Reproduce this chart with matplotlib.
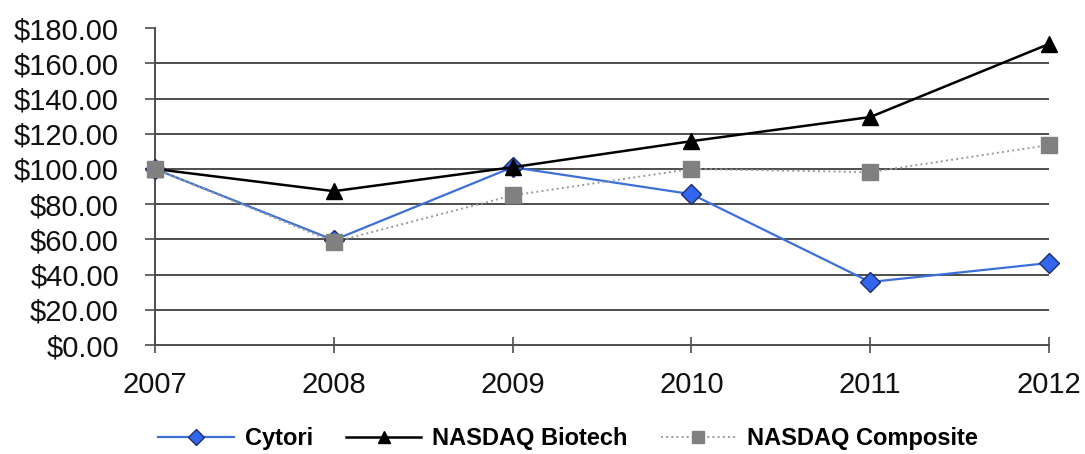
import matplotlib
matplotlib.use("Agg")
import matplotlib.pyplot as plt
from matplotlib.ticker import FuncFormatter

years = [2007, 2008, 2009, 2010, 2011, 2012]
cytori = [100, 59.6, 101, 85.7, 35.8, 46.6]
biotech = [100, 87.4, 101, 115.8, 129.5, 171]
composite = [100, 58.5, 85, 100, 98.2, 113.6]

plt.rcParams["font.family"] = ["Liberation Sans", "DejaVu Sans"]

fig = plt.figure(figsize=(10.85, 4.54), dpi=100)
ax = fig.add_axes([0.1429, 0.240, 0.8239, 0.698])

grid_col = "#4d4d4d"
for v in range(20, 180, 20):
    ax.axhline(v, color=grid_col, lw=1.4, zorder=1)

ax.plot(years, cytori, "-", color="#3d6fd9", lw=1.6, marker="D", ms=10,
        mfc="#3366ee", mec="#1f2f66", mew=1.0, label="Cytori", zorder=3,
        clip_on=False)
ax.plot(years, biotech, "-", color="black", lw=1.8, marker="^", ms=11,
        mfc="black", mec="black", label="NASDAQ Biotech", zorder=4,
        clip_on=False)
ax.plot(years, composite, ":", color="#9a9a9a", lw=1.4, marker="s", ms=11,
        mfc="#808080", mec="#808080", label="NASDAQ Composite", zorder=5,
        clip_on=False)

ax.set_xlim(2007, 2012)
ax.set_ylim(0, 180)
ax.set_xticks(years)
ax.set_yticks(range(0, 200, 20))
ax.yaxis.set_major_formatter(FuncFormatter(lambda v, p: "${:.2f}".format(v)))

for s in ["top", "right"]:
    ax.spines[s].set_visible(False)
for s in ["left", "bottom"]:
    ax.spines[s].set_color(grid_col)
    ax.spines[s].set_linewidth(1.4)

ax.tick_params(axis="y", direction="out", length=7, width=1.2, color=grid_col,
               labelsize=21, pad=19, labelcolor="#111111")
ax.tick_params(axis="x", direction="inout", length=12, width=1.2, color=grid_col,
               labelsize=21, pad=13, labelcolor="#111111")

leg = fig.legend(loc="center", bbox_to_anchor=(568 / 1085, 1 - 439 / 454), ncol=3,
                 frameon=False, handlelength=3.2, handletextpad=0.45,
                 columnspacing=1.4, prop={"size": 17, "weight": "bold"})
for line in leg.get_lines():
    line.set_markersize(8)

fig.savefig("out.png", dpi=100)
